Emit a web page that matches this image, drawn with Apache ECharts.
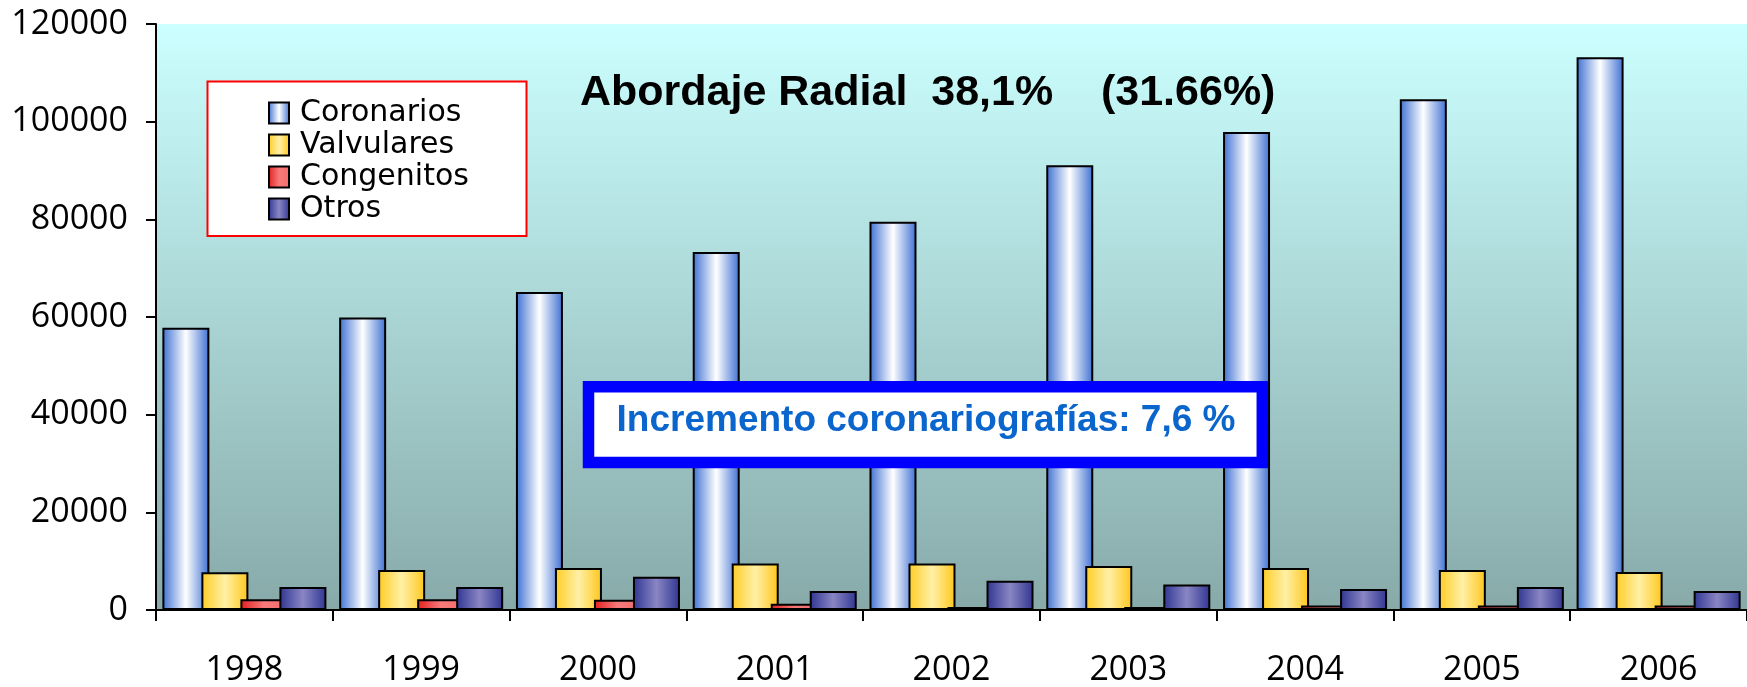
<!DOCTYPE html>
<html lang="es">
<head>
    <meta charset="UTF-8">
    <title>Abordaje Radial</title>
    <script type="text/javascript" src="https://cdn.jsdelivr.net/npm/echarts@6/dist/echarts.min.js"></script>
    <style>
        html, body { margin: 0; padding: 0; background: #fff; }
        #chart { width: 1747px; height: 687px; }
    </style>
</head>
<body>
<div id="chart"></div>
<script type="text/javascript">
    // datos
    var years = ['1998', '1999', '2000', '2001', '2002', '2003', '2004', '2005', '2006'];
    var coronarios = [57800, 59900, 65100, 73300, 79500, 91100, 97900, 104600, 113200];
    var valvulares = [7750, 8200, 8600, 9500, 9500, 9000, 8600, 8200, 7800];
    var congenitos = [2200, 2200, 2100, 1300, 600, 600, 900, 900, 900];
    var otros = [4700, 4700, 6800, 3900, 6000, 5200, 4300, 4700, 3900];
    var yTicks = [0, 20000, 40000, 60000, 80000, 100000, 120000];

    var tituloTexto = 'Abordaje Radial  38,1%    (31.66%)';
    var cajaTexto = 'Incremento coronariografías: 7,6 %';

    function grad(c1, c2, c3) {
        return new echarts.graphic.LinearGradient(0, 0, 1, 0, [
            {offset: 0, color: c1},
            {offset: 0.5, color: c2},
            {offset: 1, color: c3}
        ]);
    }

    function serie(name, data, color) {
        return {
            name: name,
            type: 'bar',
            data: data,
            barWidth: 47,
            barGap: '-17%',
            itemStyle: {color: color, borderColor: '#000', borderWidth: 2}
        };
    }

    var mychart = echarts.init(document.getElementById('chart'));
    var option = {
        animation: false,
        title: {
            text: tituloTexto,
            left: 580,
            top: 72,
            padding: 0,
            textStyle: {
                fontFamily: "'Liberation Sans', Arial, sans-serif",
                fontWeight: 'bold',
                fontSize: 43,
                color: '#000'
            }
        },
        legend: {
            orient: 'vertical',
            left: 268,
            top: 98,
            padding: 0,
            icon: 'rect',
            itemWidth: 20,
            itemHeight: 21,
            itemGap: 2,
            selectedMode: false,
            data: ['Coronarios', 'Valvulares', 'Congenitos', 'Otros'],
            textStyle: {
                fontFamily: 'DejaVu Sans',
                fontSize: 30,
                color: '#000',
                padding: [0, 0, 0, 6]
            }
        },
        grid: {
            show: true,
            left: 156,
            top: 24,
            width: 1595,
            bottom: 75,
            borderWidth: 0,
            backgroundColor: new echarts.graphic.LinearGradient(0, 0, 0, 1, [
                {offset: 0, color: '#ccffff'},
                {offset: 1, color: '#87aaa9'}
            ])
        },
        xAxis: {
            type: 'category',
            data: years,
            axisLine: {lineStyle: {color: '#000', width: 2}},
            axisTick: {show: true, length: 11, lineStyle: {color: '#000', width: 2}},
            axisLabel: {
                margin: 43,
                fontFamily: "'Open Sans', sans-serif",
                fontSize: 34,
                color: '#000'
            }
        },
        yAxis: {
            type: 'value',
            min: yTicks[0],
            max: yTicks[yTicks.length - 1],
            interval: yTicks[1] - yTicks[0],
            axisLine: {show: true, lineStyle: {color: '#000', width: 2}},
            axisTick: {show: true, length: 10, lineStyle: {color: '#000', width: 2}},
            splitLine: {show: false},
            axisLabel: {
                margin: 28,
                fontFamily: "'Open Sans', sans-serif",
                fontSize: 34,
                color: '#000',
                formatter: function (v) { return String(v); }
            }
        },
        graphic: [
            {
                type: 'rect',
                z: 3,
                shape: {x: 207.5, y: 81.5, width: 319, height: 154.5},
                style: {fill: '#fff', stroke: '#ff0000', lineWidth: 2}
            },
            {
                type: 'rect',
                z: 20,
                shape: {x: 588.5, y: 386.8, width: 673.8, height: 75.8},
                style: {fill: '#fff', stroke: '#0000ff', lineWidth: 11.5}
            },
            {
                type: 'text',
                z: 21,
                x: 926,
                y: 421,
                style: {
                    text: cajaTexto,
                    fill: '#0a66cc',
                    font: "bold 37px 'Liberation Sans', Arial, sans-serif",
                    textAlign: 'center',
                    textVerticalAlign: 'middle'
                }
            }
        ],
        series: [
            serie('Coronarios', coronarios, grad('#3d6fd2', '#ffffff', '#3d6fd2')),
            serie('Valvulares', valvulares, grad('#ffcc22', '#fff0a6', '#ffc61a')),
            serie('Congenitos', congenitos, grad('#e41e1e', '#f77a7a', '#f56c6c')),
            serie('Otros', otros, grad('#2f3591', '#8a86c4', '#2f3591'))
        ]
    };
    mychart.setOption(option);
</script>
</body>
</html>
